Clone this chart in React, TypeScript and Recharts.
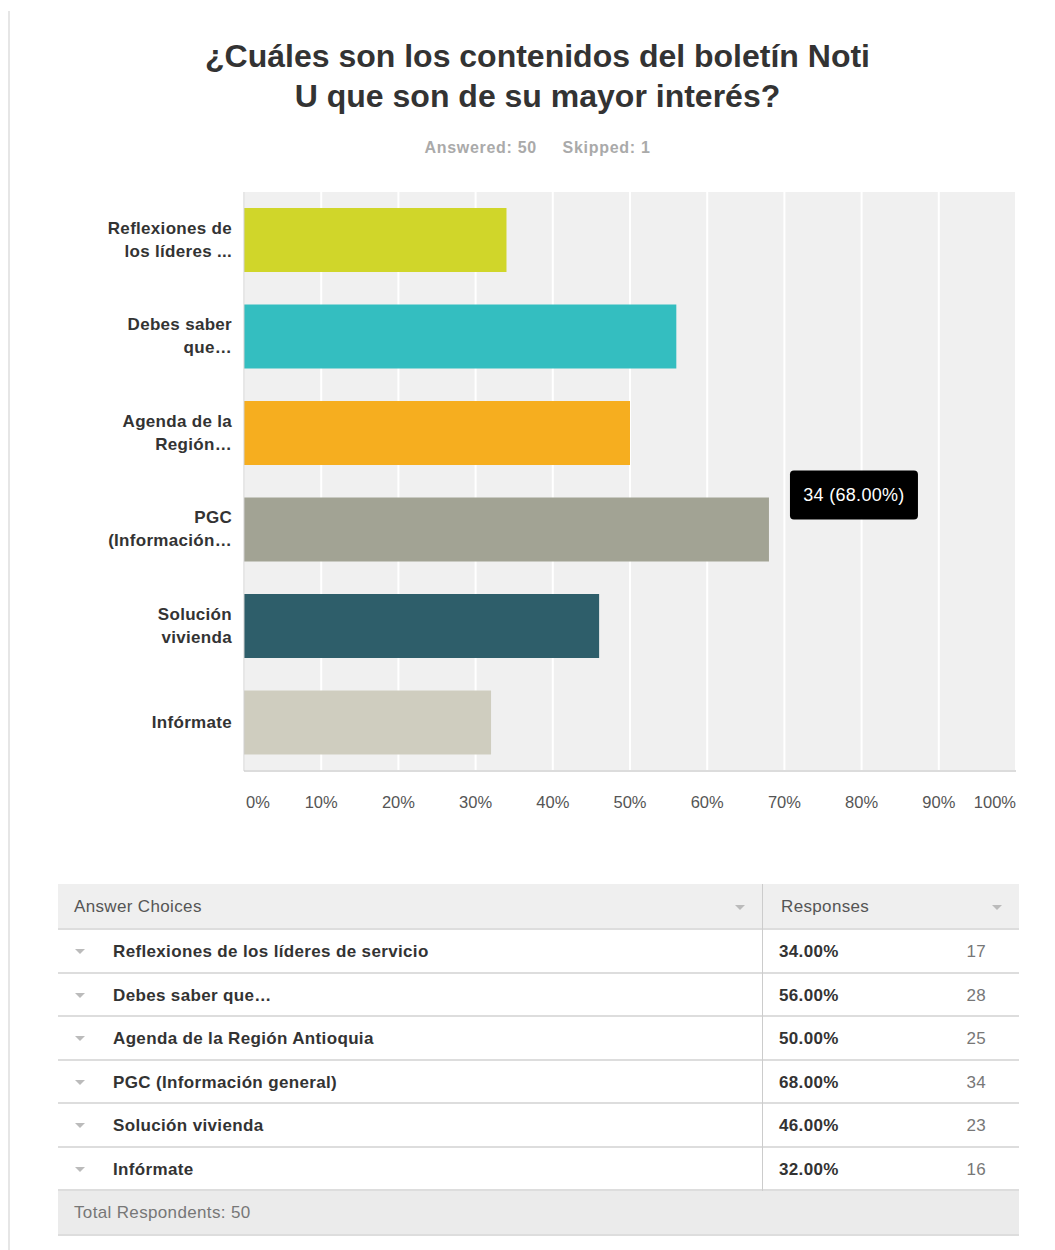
import React from 'react';
import { Bar, BarChart, CartesianGrid, Cell, LabelList, XAxis, YAxis } from 'recharts';

// opciones tal como aparecen en la tabla
const opciones = [
  'Reflexiones de los líderes de servicio',
  'Debes saber que…',
  'Agenda de la Región Antioquia',
  'PGC (Información general)',
  'Solución vivienda',
  'Infórmate',
];

// etiquetas cortas del eje (recortadas por la encuesta)
const etiquetasEje = [
  ['Reflexiones de', 'los líderes ...'],
  ['Debes saber', 'que…'],
  ['Agenda de la', 'Región…'],
  ['PGC', '(Información…'],
  ['Solución', 'vivienda'],
  ['Infórmate'],
];

const porcentajes = [34, 56, 50, 68, 46, 32];
const respuestas = [17, 28, 25, 34, 23, 16];
const colores = ['#d0d62a', '#34bec0', '#f6ae1f', '#a2a394', '#2e5e6a', '#cfcdbf'];
const marcasX = [0, 10, 20, 30, 40, 50, 60, 70, 80, 90, 100];
const indiceResaltado = 3;

const FUENTE = '"Liberation Sans", Arial, Helvetica, sans-serif';

const datos = opciones.map((nombre, i) => ({
  nombre,
  lineas: etiquetasEje[i],
  porcentaje: porcentajes[i],
  respuestas: respuestas[i],
}));

function TickCategoria(props: any) {
  const { x, y, index } = props;
  const lineas = etiquetasEje[index] ?? [];
  const offsets = lineas.length === 1 ? [0] : [-12, 11];
  return (
    <g>
      {lineas.map((l, i) => (
        <text
          key={i}
          x={x}
          y={y + offsets[i]}
          textAnchor="end"
          dominantBaseline="central"
          fill="#333"
          fontSize={17}
          letterSpacing={0.3}
          fontWeight="bold"
          fontFamily={FUENTE}
        >
          {l}
        </text>
      ))}
    </g>
  );
}

function TickPorcentaje(props: any) {
  const { x, y, payload, index } = props;
  const ultimo = index === marcasX.length - 1;
  const primero = index === 0;
  return (
    <text
      x={primero ? x + 2 : x}
      y={y + 29}
      textAnchor={primero ? 'start' : ultimo ? 'end' : 'middle'}
      dominantBaseline="central"
      fill="#555"
      fontSize={16.5}
      fontFamily={FUENTE}
    >
      {payload.value}%
    </text>
  );
}

function EtiquetaTooltip(props: any) {
  const { x, y, width, index } = props;
  if (index !== indiceResaltado) return null;
  const bx = x + width + 21;
  const by = y - 27;
  return (
    <g>
      <rect x={bx} y={by} width={128} height={49} rx={4} fill="#000" />
      <text
        x={bx + 64}
        y={by + 24}
        textAnchor="middle"
        dominantBaseline="central"
        fill="#fff"
        fontSize={18}
        letterSpacing={0.3}
        fontFamily={FUENTE}
      >
        {respuestas[index]} ({porcentajes[index].toFixed(2)}%)
      </text>
    </g>
  );
}

function Triangulo({ left, top }: { left: number; top: number }) {
  return (
    <div
      style={{
        position: 'absolute',
        left,
        top,
        width: 0,
        height: 0,
        borderLeft: '5px solid transparent',
        borderRight: '5px solid transparent',
        borderTop: '5px solid #bbb',
      }}
    />
  );
}

function Tabla() {
  const izq = 58;
  const ancho = 961;
  const divisor = 762 - izq;
  const altoCab = 46;
  const altoFila = 43.5;
  const top = 884;
  const texto = { fontSize: 17, letterSpacing: 0.35 };
  return (
    <div
      style={{
        position: 'absolute',
        left: izq,
        top,
        width: ancho,
        fontFamily: FUENTE,
        ...texto,
      }}
    >
      <div
        style={{
          position: 'relative',
          height: altoCab,
          background: '#efefef',
          borderBottom: '2px solid #ddd',
          boxSizing: 'border-box',
          color: '#555',
        }}
      >
        <span style={{ position: 'absolute', left: 16, top: 13 }}>Answer Choices</span>
        <Triangulo left={677} top={21} />
        <div style={{ position: 'absolute', left: divisor, top: 0, width: 1, height: altoCab, background: '#ccc' }} />
        <span style={{ position: 'absolute', left: divisor + 19, top: 13 }}>Responses</span>
        <Triangulo left={934} top={21} />
      </div>
      {datos.map((d, i) => (
        <div
          key={d.nombre}
          style={{
            position: 'relative',
            height: altoFila,
            background: '#fff',
            borderBottom: '2px solid #ddd',
            boxSizing: 'border-box',
          }}
        >
          <Triangulo left={17} top={19} />
          <span style={{ position: 'absolute', left: 55, top: 12, fontWeight: 'bold', color: '#333' }}>{d.nombre}</span>
          <div style={{ position: 'absolute', left: divisor, top: 0, width: 1, height: altoFila, background: '#ccc' }} />
          <span style={{ position: 'absolute', left: divisor + 17, top: 12, fontWeight: 'bold', color: '#333' }}>
            {d.porcentaje.toFixed(2)}%
          </span>
          <span style={{ position: 'absolute', right: 33, top: 12, color: '#777' }}>{d.respuestas}</span>
        </div>
      ))}
      <div
        style={{
          position: 'relative',
          height: 45,
          background: '#ebebeb',
          borderBottom: '2px solid #ddd',
          boxSizing: 'border-box',
          color: '#777',
        }}
      >
        <span style={{ position: 'absolute', left: 16, top: 12 }}>Total Respondents: 50</span>
      </div>
    </div>
  );
}

export default function App() {
  return (
    <div
      style={{
        position: 'absolute',
        left: 0,
        top: 0,
        width: 1055,
        height: 1250,
        background: '#fff',
        fontFamily: FUENTE,
        overflow: 'hidden',
      }}
    >
      <div style={{ position: 'absolute', left: 8, top: 11, width: 2, height: 1239, background: '#e6e6e6' }} />
      <div
        style={{
          position: 'absolute',
          left: 0,
          top: 36,
          width: 1075,
          textAlign: 'center',
          fontSize: 32,
          fontWeight: 'bold',
          color: '#333',
          lineHeight: '40px',
        }}
      >
        ¿Cuáles son los contenidos del boletín Noti
        <br />U que son de su mayor interés?
      </div>
      <div
        style={{
          position: 'absolute',
          left: 0,
          top: 139,
          width: 1075,
          textAlign: 'center',
          fontSize: 16,
          letterSpacing: 0.7,
          fontWeight: 'bold',
          color: '#aaa',
        }}
      >
        Answered: 50&nbsp;&nbsp;&nbsp;&nbsp; Skipped: 1
      </div>
      <div style={{ position: 'absolute', left: 0, top: 0 }}>
        <BarChart
          width={1055}
          height={840}
          data={datos}
          layout="vertical"
          margin={{ top: 192, right: 39, bottom: 39, left: 0 }}
        >
          <CartesianGrid horizontal={false} stroke="#fff" strokeWidth={2} fill="#f0f0f0" />
          <XAxis
            type="number"
            domain={[0, 100]}
            ticks={marcasX}
            height={30}
            tickLine={false}
            tickSize={0}
            axisLine={{ stroke: '#dcdcdc', strokeWidth: 2 }}
            tick={<TickPorcentaje />}
            interval={0}
          />
          <YAxis
            type="category"
            dataKey="nombre"
            width={244}
            tickLine={false}
            tickSize={0}
            tickMargin={12}
            axisLine={{ stroke: '#cfcfcf' }}
            tick={<TickCategoria />}
            interval={0}
          />
          <Bar dataKey="porcentaje" barSize={64} isAnimationActive={false}>
            {datos.map((d, i) => (
              <Cell key={d.nombre} fill={colores[i]} />
            ))}
            <LabelList dataKey="porcentaje" content={<EtiquetaTooltip />} />
          </Bar>
        </BarChart>
      </div>
      <Tabla />
    </div>
  );
}
